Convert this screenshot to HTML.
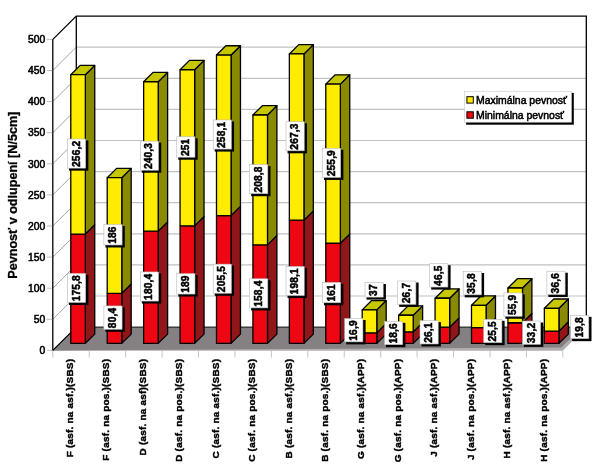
<!DOCTYPE html>
<html lang="sk"><head><meta charset="utf-8"><title>Pevnosť v odlupení</title>
<style>html,body{margin:0;padding:0;background:#fff}svg{display:block}</style></head>
<body>
<svg width="600" height="469" viewBox="0 0 600 469" font-family='"Liberation Sans", sans-serif'>
<rect width="600" height="469" fill="#fff"/>
<polygon points="52.8,39.4 76.3,16.099999999999998 76.3,327.09999999999997 52.8,350.4" fill="#fff"/>
<rect x="76.3" y="16.099999999999998" width="510.0199999999999" height="311.0" fill="#fff"/>
<path d="M76.3,296.00 L586.3199999999999,296.00" fill="none" stroke="#C2C2C2" stroke-width="1.2"/>
<path d="M52.8,319.30 L76.3,296.00" fill="none" stroke="#a4a4a4" stroke-width="1"/>
<path d="M76.3,264.90 L586.3199999999999,264.90" fill="none" stroke="#C2C2C2" stroke-width="1.2"/>
<path d="M52.8,288.20 L76.3,264.90" fill="none" stroke="#a4a4a4" stroke-width="1"/>
<path d="M76.3,233.80 L586.3199999999999,233.80" fill="none" stroke="#C2C2C2" stroke-width="1.2"/>
<path d="M52.8,257.10 L76.3,233.80" fill="none" stroke="#a4a4a4" stroke-width="1"/>
<path d="M76.3,202.70 L586.3199999999999,202.70" fill="none" stroke="#C2C2C2" stroke-width="1.2"/>
<path d="M52.8,226.00 L76.3,202.70" fill="none" stroke="#a4a4a4" stroke-width="1"/>
<path d="M76.3,171.60 L586.3199999999999,171.60" fill="none" stroke="#C2C2C2" stroke-width="1.2"/>
<path d="M52.8,194.90 L76.3,171.60" fill="none" stroke="#a4a4a4" stroke-width="1"/>
<path d="M76.3,140.50 L586.3199999999999,140.50" fill="none" stroke="#C2C2C2" stroke-width="1.2"/>
<path d="M52.8,163.80 L76.3,140.50" fill="none" stroke="#a4a4a4" stroke-width="1"/>
<path d="M76.3,109.40 L586.3199999999999,109.40" fill="none" stroke="#C2C2C2" stroke-width="1.2"/>
<path d="M52.8,132.70 L76.3,109.40" fill="none" stroke="#a4a4a4" stroke-width="1"/>
<path d="M76.3,78.30 L586.3199999999999,78.30" fill="none" stroke="#C2C2C2" stroke-width="1.2"/>
<path d="M52.8,101.60 L76.3,78.30" fill="none" stroke="#a4a4a4" stroke-width="1"/>
<path d="M76.3,47.20 L586.3199999999999,47.20" fill="none" stroke="#C2C2C2" stroke-width="1.2"/>
<path d="M52.8,70.50 L76.3,47.20" fill="none" stroke="#a4a4a4" stroke-width="1"/>
<polygon points="52.8,350.79999999999995 76.3,327.09999999999997 586.3199999999999,327.09999999999997 562.8199999999999,350.79999999999995" fill="#B2AEAE"/>
<polygon points="52.8,350.59999999999997 76.3,327.09999999999997 582.7199999999999,327.09999999999997 561.2199999999999,347.5" fill="#858182"/>
<line x1="76.3" y1="327.09999999999997" x2="586.3199999999999" y2="327.09999999999997" stroke="#111" stroke-width="1"/>
<path d="M52.8,350.4 L52.8,39.4 L76.3,16.099999999999998 L586.3199999999999,16.099999999999998 L586.3199999999999,327.09999999999997" fill="none" stroke="#000" stroke-width="1.3"/>
<path d="M76.3,16.099999999999998 L76.3,327.09999999999997 L52.8,350.4" fill="none" stroke="#000" stroke-width="1.3"/>
<line x1="46.8" y1="350.40" x2="52.199999999999996" y2="350.40" stroke="#bcbcbc" stroke-width="1"/>
<text x="45.199999999999996" y="354.10" font-size="10.3" text-anchor="end" fill="#000" stroke="#000" stroke-width="0.55">0</text>
<line x1="46.8" y1="319.30" x2="52.199999999999996" y2="319.30" stroke="#bcbcbc" stroke-width="1"/>
<text x="45.199999999999996" y="323.00" font-size="10.3" text-anchor="end" fill="#000" stroke="#000" stroke-width="0.55">50</text>
<line x1="46.8" y1="288.20" x2="52.199999999999996" y2="288.20" stroke="#bcbcbc" stroke-width="1"/>
<text x="45.199999999999996" y="291.90" font-size="10.3" text-anchor="end" fill="#000" stroke="#000" stroke-width="0.55">100</text>
<line x1="46.8" y1="257.10" x2="52.199999999999996" y2="257.10" stroke="#bcbcbc" stroke-width="1"/>
<text x="45.199999999999996" y="260.80" font-size="10.3" text-anchor="end" fill="#000" stroke="#000" stroke-width="0.55">150</text>
<line x1="46.8" y1="226.00" x2="52.199999999999996" y2="226.00" stroke="#bcbcbc" stroke-width="1"/>
<text x="45.199999999999996" y="229.70" font-size="10.3" text-anchor="end" fill="#000" stroke="#000" stroke-width="0.55">200</text>
<line x1="46.8" y1="194.90" x2="52.199999999999996" y2="194.90" stroke="#bcbcbc" stroke-width="1"/>
<text x="45.199999999999996" y="198.60" font-size="10.3" text-anchor="end" fill="#000" stroke="#000" stroke-width="0.55">250</text>
<line x1="46.8" y1="163.80" x2="52.199999999999996" y2="163.80" stroke="#bcbcbc" stroke-width="1"/>
<text x="45.199999999999996" y="167.50" font-size="10.3" text-anchor="end" fill="#000" stroke="#000" stroke-width="0.55">300</text>
<line x1="46.8" y1="132.70" x2="52.199999999999996" y2="132.70" stroke="#bcbcbc" stroke-width="1"/>
<text x="45.199999999999996" y="136.40" font-size="10.3" text-anchor="end" fill="#000" stroke="#000" stroke-width="0.55">350</text>
<line x1="46.8" y1="101.60" x2="52.199999999999996" y2="101.60" stroke="#bcbcbc" stroke-width="1"/>
<text x="45.199999999999996" y="105.30" font-size="10.3" text-anchor="end" fill="#000" stroke="#000" stroke-width="0.55">400</text>
<line x1="46.8" y1="70.50" x2="52.199999999999996" y2="70.50" stroke="#bcbcbc" stroke-width="1"/>
<text x="45.199999999999996" y="74.20" font-size="10.3" text-anchor="end" fill="#000" stroke="#000" stroke-width="0.55">450</text>
<line x1="46.8" y1="39.40" x2="52.199999999999996" y2="39.40" stroke="#bcbcbc" stroke-width="1"/>
<text x="45.199999999999996" y="43.10" font-size="10.3" text-anchor="end" fill="#000" stroke="#000" stroke-width="0.55">500</text>
<line x1="52.80" y1="350.9" x2="52.80" y2="357.59999999999997" stroke="#c4c4c4" stroke-width="1"/>
<line x1="89.23" y1="350.9" x2="89.23" y2="357.59999999999997" stroke="#c4c4c4" stroke-width="1"/>
<line x1="125.66" y1="350.9" x2="125.66" y2="357.59999999999997" stroke="#c4c4c4" stroke-width="1"/>
<line x1="162.09" y1="350.9" x2="162.09" y2="357.59999999999997" stroke="#c4c4c4" stroke-width="1"/>
<line x1="198.52" y1="350.9" x2="198.52" y2="357.59999999999997" stroke="#c4c4c4" stroke-width="1"/>
<line x1="234.95" y1="350.9" x2="234.95" y2="357.59999999999997" stroke="#c4c4c4" stroke-width="1"/>
<line x1="271.38" y1="350.9" x2="271.38" y2="357.59999999999997" stroke="#c4c4c4" stroke-width="1"/>
<line x1="307.81" y1="350.9" x2="307.81" y2="357.59999999999997" stroke="#c4c4c4" stroke-width="1"/>
<line x1="344.24" y1="350.9" x2="344.24" y2="357.59999999999997" stroke="#c4c4c4" stroke-width="1"/>
<line x1="380.67" y1="350.9" x2="380.67" y2="357.59999999999997" stroke="#c4c4c4" stroke-width="1"/>
<line x1="417.10" y1="350.9" x2="417.10" y2="357.59999999999997" stroke="#c4c4c4" stroke-width="1"/>
<line x1="453.53" y1="350.9" x2="453.53" y2="357.59999999999997" stroke="#c4c4c4" stroke-width="1"/>
<line x1="489.96" y1="350.9" x2="489.96" y2="357.59999999999997" stroke="#c4c4c4" stroke-width="1"/>
<line x1="526.39" y1="350.9" x2="526.39" y2="357.59999999999997" stroke="#c4c4c4" stroke-width="1"/>
<line x1="562.82" y1="350.9" x2="562.82" y2="357.59999999999997" stroke="#c4c4c4" stroke-width="1"/>
<polygon points="85.35,343.41 94.75,334.09 94.75,224.74 85.35,234.06" fill="#90161A" stroke="#000" stroke-width="1.3" stroke-linejoin="round"/><rect x="70.78" y="234.06" width="14.57" height="109.35" fill="#EE0612" stroke="#000" stroke-width="1.3" stroke-linejoin="round"/>
<polygon points="85.35,234.06 94.75,224.74 94.75,65.39 85.35,74.71" fill="#8A8A00" stroke="#000" stroke-width="1.3" stroke-linejoin="round"/><polygon points="70.78,74.71 80.18,65.39 94.75,65.39 85.35,74.71" fill="#C6C700" stroke="#000" stroke-width="1.3" stroke-linejoin="round"/><rect x="70.78" y="74.71" width="14.57" height="159.36" fill="#FFEC00" stroke="#000" stroke-width="1.3" stroke-linejoin="round"/>
<polygon points="121.78,343.41 131.18,334.09 131.18,284.08 121.78,293.40" fill="#90161A" stroke="#000" stroke-width="1.3" stroke-linejoin="round"/><rect x="107.21" y="293.40" width="14.57" height="50.01" fill="#EE0612" stroke="#000" stroke-width="1.3" stroke-linejoin="round"/>
<polygon points="121.78,293.40 131.18,284.08 131.18,168.39 121.78,177.71" fill="#8A8A00" stroke="#000" stroke-width="1.3" stroke-linejoin="round"/><polygon points="107.21,177.71 116.61,168.39 131.18,168.39 121.78,177.71" fill="#C6C700" stroke="#000" stroke-width="1.3" stroke-linejoin="round"/><rect x="107.21" y="177.71" width="14.57" height="115.69" fill="#FFEC00" stroke="#000" stroke-width="1.3" stroke-linejoin="round"/>
<polygon points="158.21,343.41 167.61,334.09 167.61,221.88 158.21,231.20" fill="#90161A" stroke="#000" stroke-width="1.3" stroke-linejoin="round"/><rect x="143.64" y="231.20" width="14.57" height="112.21" fill="#EE0612" stroke="#000" stroke-width="1.3" stroke-linejoin="round"/>
<polygon points="158.21,231.20 167.61,221.88 167.61,72.41 158.21,81.73" fill="#8A8A00" stroke="#000" stroke-width="1.3" stroke-linejoin="round"/><polygon points="143.64,81.73 153.04,72.41 167.61,72.41 158.21,81.73" fill="#C6C700" stroke="#000" stroke-width="1.3" stroke-linejoin="round"/><rect x="143.64" y="81.73" width="14.57" height="149.47" fill="#FFEC00" stroke="#000" stroke-width="1.3" stroke-linejoin="round"/>
<polygon points="194.64,343.41 204.04,334.09 204.04,216.53 194.64,225.85" fill="#90161A" stroke="#000" stroke-width="1.3" stroke-linejoin="round"/><rect x="180.07" y="225.85" width="14.57" height="117.56" fill="#EE0612" stroke="#000" stroke-width="1.3" stroke-linejoin="round"/>
<polygon points="194.64,225.85 204.04,216.53 204.04,60.41 194.64,69.73" fill="#8A8A00" stroke="#000" stroke-width="1.3" stroke-linejoin="round"/><polygon points="180.07,69.73 189.47,60.41 204.04,60.41 194.64,69.73" fill="#C6C700" stroke="#000" stroke-width="1.3" stroke-linejoin="round"/><rect x="180.07" y="69.73" width="14.57" height="156.12" fill="#FFEC00" stroke="#000" stroke-width="1.3" stroke-linejoin="round"/>
<polygon points="231.07,343.41 240.47,334.09 240.47,206.27 231.07,215.59" fill="#90161A" stroke="#000" stroke-width="1.3" stroke-linejoin="round"/><rect x="216.50" y="215.59" width="14.57" height="127.82" fill="#EE0612" stroke="#000" stroke-width="1.3" stroke-linejoin="round"/>
<polygon points="231.07,215.59 240.47,206.27 240.47,45.73 231.07,55.05" fill="#8A8A00" stroke="#000" stroke-width="1.3" stroke-linejoin="round"/><polygon points="216.50,55.05 225.90,45.73 240.47,45.73 231.07,55.05" fill="#C6C700" stroke="#000" stroke-width="1.3" stroke-linejoin="round"/><rect x="216.50" y="55.05" width="14.57" height="160.54" fill="#FFEC00" stroke="#000" stroke-width="1.3" stroke-linejoin="round"/>
<polygon points="267.50,343.41 276.90,334.09 276.90,235.57 267.50,244.89" fill="#90161A" stroke="#000" stroke-width="1.3" stroke-linejoin="round"/><rect x="252.93" y="244.89" width="14.57" height="98.52" fill="#EE0612" stroke="#000" stroke-width="1.3" stroke-linejoin="round"/>
<polygon points="267.50,244.89 276.90,235.57 276.90,105.69 267.50,115.01" fill="#8A8A00" stroke="#000" stroke-width="1.3" stroke-linejoin="round"/><polygon points="252.93,115.01 262.33,105.69 276.90,105.69 267.50,115.01" fill="#C6C700" stroke="#000" stroke-width="1.3" stroke-linejoin="round"/><rect x="252.93" y="115.01" width="14.57" height="129.87" fill="#FFEC00" stroke="#000" stroke-width="1.3" stroke-linejoin="round"/>
<polygon points="303.93,343.41 313.33,334.09 313.33,210.87 303.93,220.19" fill="#90161A" stroke="#000" stroke-width="1.3" stroke-linejoin="round"/><rect x="289.36" y="220.19" width="14.57" height="123.22" fill="#EE0612" stroke="#000" stroke-width="1.3" stroke-linejoin="round"/>
<polygon points="303.93,220.19 313.33,210.87 313.33,44.61 303.93,53.93" fill="#8A8A00" stroke="#000" stroke-width="1.3" stroke-linejoin="round"/><polygon points="289.36,53.93 298.76,44.61 313.33,44.61 303.93,53.93" fill="#C6C700" stroke="#000" stroke-width="1.3" stroke-linejoin="round"/><rect x="289.36" y="53.93" width="14.57" height="166.26" fill="#FFEC00" stroke="#000" stroke-width="1.3" stroke-linejoin="round"/>
<polygon points="340.36,343.41 349.76,334.09 349.76,233.95 340.36,243.27" fill="#90161A" stroke="#000" stroke-width="1.3" stroke-linejoin="round"/><rect x="325.79" y="243.27" width="14.57" height="100.14" fill="#EE0612" stroke="#000" stroke-width="1.3" stroke-linejoin="round"/>
<polygon points="340.36,243.27 349.76,233.95 349.76,74.78 340.36,84.10" fill="#8A8A00" stroke="#000" stroke-width="1.3" stroke-linejoin="round"/><polygon points="325.79,84.10 335.19,74.78 349.76,74.78 340.36,84.10" fill="#C6C700" stroke="#000" stroke-width="1.3" stroke-linejoin="round"/><rect x="325.79" y="84.10" width="14.57" height="159.17" fill="#FFEC00" stroke="#000" stroke-width="1.3" stroke-linejoin="round"/>
<polygon points="376.79,343.41 386.19,334.09 386.19,323.58 376.79,332.90" fill="#90161A" stroke="#000" stroke-width="1.3" stroke-linejoin="round"/><rect x="362.22" y="332.90" width="14.57" height="10.51" fill="#EE0612" stroke="#000" stroke-width="1.3" stroke-linejoin="round"/>
<polygon points="376.79,332.90 386.19,323.58 386.19,300.56 376.79,309.88" fill="#8A8A00" stroke="#000" stroke-width="1.3" stroke-linejoin="round"/><polygon points="362.22,309.88 371.62,300.56 386.19,300.56 376.79,309.88" fill="#C6C700" stroke="#000" stroke-width="1.3" stroke-linejoin="round"/><rect x="362.22" y="309.88" width="14.57" height="23.01" fill="#FFEC00" stroke="#000" stroke-width="1.3" stroke-linejoin="round"/>
<polygon points="413.22,343.41 422.62,334.09 422.62,322.52 413.22,331.84" fill="#90161A" stroke="#000" stroke-width="1.3" stroke-linejoin="round"/><rect x="398.65" y="331.84" width="14.57" height="11.57" fill="#EE0612" stroke="#000" stroke-width="1.3" stroke-linejoin="round"/>
<polygon points="413.22,331.84 422.62,322.52 422.62,305.91 413.22,315.23" fill="#8A8A00" stroke="#000" stroke-width="1.3" stroke-linejoin="round"/><polygon points="398.65,315.23 408.05,305.91 422.62,305.91 413.22,315.23" fill="#C6C700" stroke="#000" stroke-width="1.3" stroke-linejoin="round"/><rect x="398.65" y="315.23" width="14.57" height="16.61" fill="#FFEC00" stroke="#000" stroke-width="1.3" stroke-linejoin="round"/>
<polygon points="449.65,343.41 459.05,334.09 459.05,317.86 449.65,327.18" fill="#90161A" stroke="#000" stroke-width="1.3" stroke-linejoin="round"/><rect x="435.08" y="327.18" width="14.57" height="16.23" fill="#EE0612" stroke="#000" stroke-width="1.3" stroke-linejoin="round"/>
<polygon points="449.65,327.18 459.05,317.86 459.05,288.93 449.65,298.25" fill="#8A8A00" stroke="#000" stroke-width="1.3" stroke-linejoin="round"/><polygon points="435.08,298.25 444.48,288.93 459.05,288.93 449.65,298.25" fill="#C6C700" stroke="#000" stroke-width="1.3" stroke-linejoin="round"/><rect x="435.08" y="298.25" width="14.57" height="28.92" fill="#FFEC00" stroke="#000" stroke-width="1.3" stroke-linejoin="round"/>
<polygon points="486.08,343.41 495.48,334.09 495.48,318.23 486.08,327.55" fill="#90161A" stroke="#000" stroke-width="1.3" stroke-linejoin="round"/><rect x="471.51" y="327.55" width="14.57" height="15.86" fill="#EE0612" stroke="#000" stroke-width="1.3" stroke-linejoin="round"/>
<polygon points="486.08,327.55 495.48,318.23 495.48,295.96 486.08,305.28" fill="#8A8A00" stroke="#000" stroke-width="1.3" stroke-linejoin="round"/><polygon points="471.51,305.28 480.91,295.96 495.48,295.96 486.08,305.28" fill="#C6C700" stroke="#000" stroke-width="1.3" stroke-linejoin="round"/><rect x="471.51" y="305.28" width="14.57" height="22.27" fill="#FFEC00" stroke="#000" stroke-width="1.3" stroke-linejoin="round"/>
<polygon points="522.51,343.41 531.91,334.09 531.91,313.44 522.51,322.76" fill="#90161A" stroke="#000" stroke-width="1.3" stroke-linejoin="round"/><rect x="507.94" y="322.76" width="14.57" height="20.65" fill="#EE0612" stroke="#000" stroke-width="1.3" stroke-linejoin="round"/>
<polygon points="522.51,322.76 531.91,313.44 531.91,278.67 522.51,287.99" fill="#8A8A00" stroke="#000" stroke-width="1.3" stroke-linejoin="round"/><polygon points="507.94,287.99 517.34,278.67 531.91,278.67 522.51,287.99" fill="#C6C700" stroke="#000" stroke-width="1.3" stroke-linejoin="round"/><rect x="507.94" y="287.99" width="14.57" height="34.77" fill="#FFEC00" stroke="#000" stroke-width="1.3" stroke-linejoin="round"/>
<polygon points="558.94,343.41 568.34,334.09 568.34,321.77 558.94,331.09" fill="#90161A" stroke="#000" stroke-width="1.3" stroke-linejoin="round"/><rect x="544.37" y="331.09" width="14.57" height="12.32" fill="#EE0612" stroke="#000" stroke-width="1.3" stroke-linejoin="round"/>
<polygon points="558.94,331.09 568.34,321.77 568.34,299.01 558.94,308.33" fill="#8A8A00" stroke="#000" stroke-width="1.3" stroke-linejoin="round"/><polygon points="544.37,308.33 553.77,299.01 568.34,299.01 558.94,308.33" fill="#C6C700" stroke="#000" stroke-width="1.3" stroke-linejoin="round"/><rect x="544.37" y="308.33" width="14.57" height="22.77" fill="#FFEC00" stroke="#000" stroke-width="1.3" stroke-linejoin="round"/>
<rect x="68.97" y="274.88" width="19.40" height="30.12" fill="#000"/>
<rect x="67.47" y="273.38" width="18.2" height="29.12" fill="#fff" stroke="#b8b8b8" stroke-width="0.6"/>
<text transform="translate(79.56,288.24) rotate(-90)" font-size="10.2" font-weight="bold" letter-spacing="0.15" text-anchor="middle" fill="#000" stroke="#000" stroke-width="0.5">175,8</text>
<rect x="68.97" y="140.52" width="19.40" height="30.12" fill="#000"/>
<rect x="67.47" y="139.02" width="18.2" height="29.12" fill="#fff" stroke="#b8b8b8" stroke-width="0.6"/>
<text transform="translate(79.56,153.88) rotate(-90)" font-size="10.2" font-weight="bold" letter-spacing="0.15" text-anchor="middle" fill="#000" stroke="#000" stroke-width="0.5">256,2</text>
<rect x="105.39" y="307.44" width="19.40" height="24.34" fill="#000"/>
<rect x="103.89" y="305.94" width="18.2" height="23.34" fill="#fff" stroke="#b8b8b8" stroke-width="0.6"/>
<text transform="translate(115.99,317.91) rotate(-90)" font-size="10.2" font-weight="bold" letter-spacing="0.15" text-anchor="middle" fill="#000" stroke="#000" stroke-width="0.5">80,4</text>
<rect x="105.39" y="226.03" width="19.40" height="21.45" fill="#000"/>
<rect x="103.89" y="224.53" width="18.2" height="20.45" fill="#fff" stroke="#b8b8b8" stroke-width="0.6"/>
<text transform="translate(115.99,235.06) rotate(-90)" font-size="10.2" font-weight="bold" letter-spacing="0.15" text-anchor="middle" fill="#000" stroke="#000" stroke-width="0.5">186</text>
<rect x="141.83" y="273.45" width="19.40" height="30.12" fill="#000"/>
<rect x="140.33" y="271.95" width="18.2" height="29.12" fill="#fff" stroke="#b8b8b8" stroke-width="0.6"/>
<text transform="translate(152.43,286.81) rotate(-90)" font-size="10.2" font-weight="bold" letter-spacing="0.15" text-anchor="middle" fill="#000" stroke="#000" stroke-width="0.5">180,4</text>
<rect x="141.83" y="142.61" width="19.40" height="30.12" fill="#000"/>
<rect x="140.33" y="141.11" width="18.2" height="29.12" fill="#fff" stroke="#b8b8b8" stroke-width="0.6"/>
<text transform="translate(152.43,155.97) rotate(-90)" font-size="10.2" font-weight="bold" letter-spacing="0.15" text-anchor="middle" fill="#000" stroke="#000" stroke-width="0.5">240,3</text>
<rect x="178.26" y="275.11" width="19.40" height="21.45" fill="#000"/>
<rect x="176.76" y="273.61" width="18.2" height="20.45" fill="#fff" stroke="#b8b8b8" stroke-width="0.6"/>
<text transform="translate(188.86,284.13) rotate(-90)" font-size="10.2" font-weight="bold" letter-spacing="0.15" text-anchor="middle" fill="#000" stroke="#000" stroke-width="0.5">189</text>
<rect x="178.26" y="138.27" width="19.40" height="21.45" fill="#000"/>
<rect x="176.76" y="136.77" width="18.2" height="20.45" fill="#fff" stroke="#b8b8b8" stroke-width="0.6"/>
<text transform="translate(188.86,147.29) rotate(-90)" font-size="10.2" font-weight="bold" letter-spacing="0.15" text-anchor="middle" fill="#000" stroke="#000" stroke-width="0.5">251</text>
<rect x="214.69" y="265.64" width="19.40" height="30.12" fill="#000"/>
<rect x="213.19" y="264.14" width="18.2" height="29.12" fill="#fff" stroke="#b8b8b8" stroke-width="0.6"/>
<text transform="translate(225.29,279.00) rotate(-90)" font-size="10.2" font-weight="bold" letter-spacing="0.15" text-anchor="middle" fill="#000" stroke="#000" stroke-width="0.5">205,5</text>
<rect x="214.69" y="121.46" width="19.40" height="30.12" fill="#000"/>
<rect x="213.19" y="119.96" width="18.2" height="29.12" fill="#fff" stroke="#b8b8b8" stroke-width="0.6"/>
<text transform="translate(225.29,134.82) rotate(-90)" font-size="10.2" font-weight="bold" letter-spacing="0.15" text-anchor="middle" fill="#000" stroke="#000" stroke-width="0.5">258,1</text>
<rect x="251.12" y="280.29" width="19.40" height="30.12" fill="#000"/>
<rect x="249.62" y="278.79" width="18.2" height="29.12" fill="#fff" stroke="#b8b8b8" stroke-width="0.6"/>
<text transform="translate(261.72,293.65) rotate(-90)" font-size="10.2" font-weight="bold" letter-spacing="0.15" text-anchor="middle" fill="#000" stroke="#000" stroke-width="0.5">158,4</text>
<rect x="251.12" y="166.09" width="19.40" height="30.12" fill="#000"/>
<rect x="249.62" y="164.59" width="18.2" height="29.12" fill="#fff" stroke="#b8b8b8" stroke-width="0.6"/>
<text transform="translate(261.72,179.45) rotate(-90)" font-size="10.2" font-weight="bold" letter-spacing="0.15" text-anchor="middle" fill="#000" stroke="#000" stroke-width="0.5">208,8</text>
<rect x="287.54" y="267.94" width="19.40" height="30.12" fill="#000"/>
<rect x="286.04" y="266.44" width="18.2" height="29.12" fill="#fff" stroke="#b8b8b8" stroke-width="0.6"/>
<text transform="translate(298.14,281.30) rotate(-90)" font-size="10.2" font-weight="bold" letter-spacing="0.15" text-anchor="middle" fill="#000" stroke="#000" stroke-width="0.5">198,1</text>
<rect x="287.54" y="123.20" width="19.40" height="30.12" fill="#000"/>
<rect x="286.04" y="121.70" width="18.2" height="29.12" fill="#fff" stroke="#b8b8b8" stroke-width="0.6"/>
<text transform="translate(298.14,136.56) rotate(-90)" font-size="10.2" font-weight="bold" letter-spacing="0.15" text-anchor="middle" fill="#000" stroke="#000" stroke-width="0.5">267,3</text>
<rect x="323.98" y="283.82" width="19.40" height="21.45" fill="#000"/>
<rect x="322.48" y="282.32" width="18.2" height="20.45" fill="#fff" stroke="#b8b8b8" stroke-width="0.6"/>
<text transform="translate(334.58,292.84) rotate(-90)" font-size="10.2" font-weight="bold" letter-spacing="0.15" text-anchor="middle" fill="#000" stroke="#000" stroke-width="0.5">161</text>
<rect x="323.98" y="149.82" width="19.40" height="30.12" fill="#000"/>
<rect x="322.48" y="148.32" width="18.2" height="29.12" fill="#fff" stroke="#b8b8b8" stroke-width="0.6"/>
<text transform="translate(334.58,163.18) rotate(-90)" font-size="10.2" font-weight="bold" letter-spacing="0.15" text-anchor="middle" fill="#000" stroke="#000" stroke-width="0.5">255,9</text>
<rect x="346.20" y="320.03" width="19.40" height="24.34" fill="#000"/>
<rect x="344.70" y="318.53" width="18.2" height="23.34" fill="#fff" stroke="#b8b8b8" stroke-width="0.6"/>
<text transform="translate(356.80,330.50) rotate(-90)" font-size="10.2" font-weight="bold" letter-spacing="0.15" text-anchor="middle" fill="#000" stroke="#000" stroke-width="0.5">16,9</text>
<rect x="366.50" y="283.97" width="19.40" height="15.66" fill="#000"/>
<rect x="365.00" y="282.47" width="18.2" height="14.66" fill="#fff" stroke="#b8b8b8" stroke-width="0.6"/>
<text transform="translate(377.10,290.10) rotate(-90)" font-size="10.2" font-weight="bold" letter-spacing="0.15" text-anchor="middle" fill="#000" stroke="#000" stroke-width="0.5">37</text>
<rect x="386.00" y="322.83" width="19.40" height="24.34" fill="#000"/>
<rect x="384.50" y="321.33" width="18.2" height="23.34" fill="#fff" stroke="#b8b8b8" stroke-width="0.6"/>
<text transform="translate(396.60,333.30) rotate(-90)" font-size="10.2" font-weight="bold" letter-spacing="0.15" text-anchor="middle" fill="#000" stroke="#000" stroke-width="0.5">18,6</text>
<rect x="399.20" y="282.53" width="19.40" height="24.34" fill="#000"/>
<rect x="397.70" y="281.03" width="18.2" height="23.34" fill="#fff" stroke="#b8b8b8" stroke-width="0.6"/>
<text transform="translate(409.80,293.00) rotate(-90)" font-size="10.2" font-weight="bold" letter-spacing="0.15" text-anchor="middle" fill="#000" stroke="#000" stroke-width="0.5">26,7</text>
<rect x="421.50" y="322.13" width="19.40" height="24.34" fill="#000"/>
<rect x="420.00" y="320.63" width="18.2" height="23.34" fill="#fff" stroke="#b8b8b8" stroke-width="0.6"/>
<text transform="translate(432.10,332.60) rotate(-90)" font-size="10.2" font-weight="bold" letter-spacing="0.15" text-anchor="middle" fill="#000" stroke="#000" stroke-width="0.5">26,1</text>
<rect x="431.20" y="265.23" width="19.40" height="24.34" fill="#000"/>
<rect x="429.70" y="263.73" width="18.2" height="23.34" fill="#fff" stroke="#b8b8b8" stroke-width="0.6"/>
<text transform="translate(441.80,275.70) rotate(-90)" font-size="10.2" font-weight="bold" letter-spacing="0.15" text-anchor="middle" fill="#000" stroke="#000" stroke-width="0.5">46,5</text>
<rect x="485.20" y="320.83" width="19.40" height="24.34" fill="#000"/>
<rect x="483.70" y="319.33" width="18.2" height="23.34" fill="#fff" stroke="#b8b8b8" stroke-width="0.6"/>
<text transform="translate(495.80,331.30) rotate(-90)" font-size="10.2" font-weight="bold" letter-spacing="0.15" text-anchor="middle" fill="#000" stroke="#000" stroke-width="0.5">25,5</text>
<rect x="464.70" y="273.03" width="19.40" height="24.34" fill="#000"/>
<rect x="463.20" y="271.53" width="18.2" height="23.34" fill="#fff" stroke="#b8b8b8" stroke-width="0.6"/>
<text transform="translate(475.30,283.50) rotate(-90)" font-size="10.2" font-weight="bold" letter-spacing="0.15" text-anchor="middle" fill="#000" stroke="#000" stroke-width="0.5">35,8</text>
<rect x="523.90" y="322.53" width="19.40" height="24.34" fill="#000"/>
<rect x="522.40" y="321.03" width="18.2" height="23.34" fill="#fff" stroke="#b8b8b8" stroke-width="0.6"/>
<text transform="translate(534.50,333.00) rotate(-90)" font-size="10.2" font-weight="bold" letter-spacing="0.15" text-anchor="middle" fill="#000" stroke="#000" stroke-width="0.5">33,2</text>
<rect x="505.40" y="294.43" width="19.40" height="24.34" fill="#000"/>
<rect x="503.90" y="292.93" width="18.2" height="23.34" fill="#fff" stroke="#b8b8b8" stroke-width="0.6"/>
<text transform="translate(516.00,304.90) rotate(-90)" font-size="10.2" font-weight="bold" letter-spacing="0.15" text-anchor="middle" fill="#000" stroke="#000" stroke-width="0.5">55,9</text>
<rect x="572.10" y="316.83" width="19.40" height="24.34" fill="#000"/>
<rect x="570.60" y="315.33" width="18.2" height="23.34" fill="#fff" stroke="#b8b8b8" stroke-width="0.6"/>
<text transform="translate(582.70,327.30) rotate(-90)" font-size="10.2" font-weight="bold" letter-spacing="0.15" text-anchor="middle" fill="#000" stroke="#000" stroke-width="0.5">19,8</text>
<rect x="548.40" y="272.73" width="19.40" height="24.34" fill="#000"/>
<rect x="546.90" y="271.23" width="18.2" height="23.34" fill="#fff" stroke="#b8b8b8" stroke-width="0.6"/>
<text transform="translate(559.00,283.20) rotate(-90)" font-size="10.2" font-weight="bold" letter-spacing="0.15" text-anchor="middle" fill="#000" stroke="#000" stroke-width="0.5">36,6</text>
<text transform="translate(73.02,358.8) rotate(-90) scale(1,0.91)" font-size="10.0" font-weight="bold" letter-spacing="0.2" text-anchor="end" fill="#000" stroke="#000" stroke-width="0.45">F (asf. na asf.)(SBS)</text>
<text transform="translate(109.44,358.8) rotate(-90) scale(1,0.91)" font-size="10.0" font-weight="bold" letter-spacing="0.2" text-anchor="end" fill="#000" stroke="#000" stroke-width="0.45">F (asf. na pos.)(SBS)</text>
<text transform="translate(145.88,358.8) rotate(-90) scale(1,0.91)" font-size="10.0" font-weight="bold" letter-spacing="0.2" text-anchor="end" fill="#000" stroke="#000" stroke-width="0.45">D (asf. na asf)(SBS)</text>
<text transform="translate(182.31,358.8) rotate(-90) scale(1,0.91)" font-size="10.0" font-weight="bold" letter-spacing="0.2" text-anchor="end" fill="#000" stroke="#000" stroke-width="0.45">D (asf. na pos.)(SBS)</text>
<text transform="translate(218.74,358.8) rotate(-90) scale(1,0.91)" font-size="10.0" font-weight="bold" letter-spacing="0.2" text-anchor="end" fill="#000" stroke="#000" stroke-width="0.45">C (asf. na asf.)(SBS)</text>
<text transform="translate(255.17,358.8) rotate(-90) scale(1,0.91)" font-size="10.0" font-weight="bold" letter-spacing="0.2" text-anchor="end" fill="#000" stroke="#000" stroke-width="0.45">C (asf. na pos.)(SBS)</text>
<text transform="translate(291.59,358.8) rotate(-90) scale(1,0.91)" font-size="10.0" font-weight="bold" letter-spacing="0.2" text-anchor="end" fill="#000" stroke="#000" stroke-width="0.45">B (asf. na asf.)(SBS)</text>
<text transform="translate(328.03,358.8) rotate(-90) scale(1,0.91)" font-size="10.0" font-weight="bold" letter-spacing="0.2" text-anchor="end" fill="#000" stroke="#000" stroke-width="0.45">B (asf. na pos.)(SBS)</text>
<text transform="translate(364.45,358.8) rotate(-90) scale(1,0.91)" font-size="10.0" font-weight="bold" letter-spacing="0.2" text-anchor="end" fill="#000" stroke="#000" stroke-width="0.45">G (asf. na asf.)(APP)</text>
<text transform="translate(400.88,358.8) rotate(-90) scale(1,0.91)" font-size="10.0" font-weight="bold" letter-spacing="0.2" text-anchor="end" fill="#000" stroke="#000" stroke-width="0.45">G (asf. na pos.)(APP)</text>
<text transform="translate(437.31,358.8) rotate(-90) scale(1,0.91)" font-size="10.0" font-weight="bold" letter-spacing="0.2" text-anchor="end" fill="#000" stroke="#000" stroke-width="0.45">J (asf. na asf.)(APP)</text>
<text transform="translate(473.75,358.8) rotate(-90) scale(1,0.91)" font-size="10.0" font-weight="bold" letter-spacing="0.2" text-anchor="end" fill="#000" stroke="#000" stroke-width="0.45">J (asf. na pos.)(APP)</text>
<text transform="translate(510.18,358.8) rotate(-90) scale(1,0.91)" font-size="10.0" font-weight="bold" letter-spacing="0.2" text-anchor="end" fill="#000" stroke="#000" stroke-width="0.45">H (asf. na asf.)(APP)</text>
<text transform="translate(546.61,358.8) rotate(-90) scale(1,0.91)" font-size="10.0" font-weight="bold" letter-spacing="0.2" text-anchor="end" fill="#000" stroke="#000" stroke-width="0.45">H (asf. na pos.)(APP)</text>
<text transform="translate(16.8,195.2) rotate(-90)" font-size="12.6" font-weight="bold" text-anchor="middle" fill="#000" stroke="#000" stroke-width="0.3">Pevnosť v odlupení [N/5cm]</text>
<rect x="466.1" y="92.89999999999999" width="107.7" height="31.799999999999997" fill="#000"/>
<rect x="464.5" y="91.3" width="107" height="30.9" fill="#fff" stroke="#c8c8c8" stroke-width="0.6"/>
<rect x="466.9" y="96.7" width="6.4" height="6.4" fill="#FFEC00" stroke="#000" stroke-width="1"/>
<rect x="466.9" y="111.8" width="6.4" height="6.4" fill="#EE0612" stroke="#000" stroke-width="1"/>
<text x="476" y="104.1" font-size="10.45" fill="#000" stroke="#000" stroke-width="0.5">Maximálna pevnosť</text>
<text x="476" y="119.3" font-size="10.45" fill="#000" stroke="#000" stroke-width="0.5">Minimálna pevnosť</text>
</svg>
</body></html>
